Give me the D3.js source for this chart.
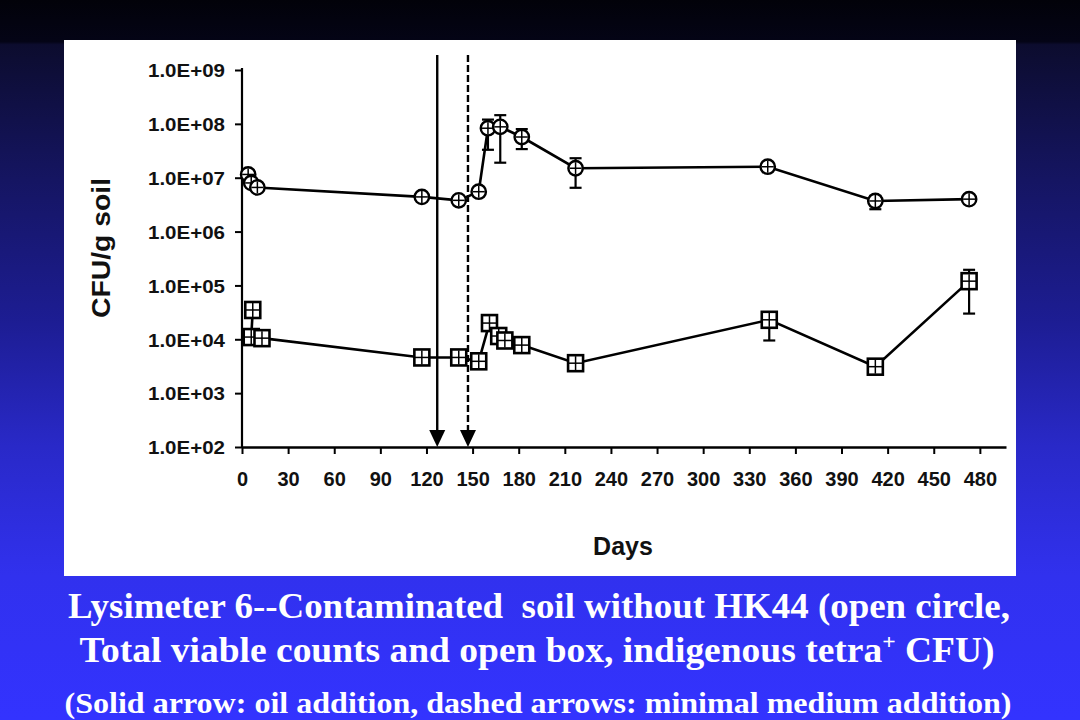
<!DOCTYPE html>
<html>
<head>
<meta charset="utf-8">
<script src="https://cdn.jsdelivr.net/npm/d3@7"></script>
<style>
  html, body { margin: 0; padding: 0; }
  svg { display: block; }
</style>
</head>
<body>
<svg id="chart" width="1080" height="720"></svg>
<script>
// ---------------- DATA ----------------
// Total viable counts (open circle)
const tvcDays   = [4, 6, 10, 117, 141, 154, 160, 168, 182, 217, 342, 412, 473];
const tvcValues = [1.15e7, 8.0e6, 6.6e6, 4.4e6, 3.8e6, 5.5e6, 8.3e7, 8.8e7, 5.7e7, 1.5e7, 1.6e7, 3.7e6, 4.0e6];
const tvcLow    = [null, null, null, null, null, null, 3.3e7, 1.9e7, 3.4e7, 6.5e6, null, 2.6e6, null];
const tvcHigh   = [null, null, null, null, null, null, 1.2e8, 1.45e8, 8.0e7, 2.3e7, null, 4.6e6, null];

// Indigenous tetra+ CFU (open box)
const tetraDays   = [7, 6, 13, 117, 141, 154, 161, 167, 171, 182, 217, 343, 412, 473];
const tetraValues = [3.5e4, 1.1e4, 1.05e4, 4.6e3, 4.6e3, 3.9e3, 2.0e4, 1.15e4, 9.5e3, 7.8e3, 3.6e3, 2.3e4, 3.1e3, 1.2e5];
const tetraLow    = [null, null, null, null, null, null, null, null, null, null, null, 9.5e3, null, 3.0e4];
const tetraHigh   = [null, null, null, null, null, null, null, null, null, null, null, 3.0e4, null, 1.95e5];

// Treatment arrows (day, kind)
const arrowDays  = [127, 147];
const arrowKinds = ["solid", "dashed"];

// Axis ticks
const xTickValues = [0, 30, 60, 90, 120, 150, 180, 210, 240, 270, 300, 330, 360, 390, 420, 450, 480];
const yTickValues = [1e2, 1e3, 1e4, 1e5, 1e6, 1e7, 1e8, 1e9];
const yTickLabels = ["1.0E+02", "1.0E+03", "1.0E+04", "1.0E+05", "1.0E+06", "1.0E+07", "1.0E+08", "1.0E+09"];

const xTitle = "Days";
const yTitle = "CFU/g soil";
const caption1 = "Lysimeter 6--Contaminated  soil without HK44 (open circle,";
const caption2a = "Total viable counts and open box, indigenous tetra";
const caption2sup = "+";
const caption2b = " CFU)";
const caption3 = "(Solid arrow: oil addition, dashed arrows: minimal medium addition)";

// ---------------- DRAW ----------------
const svg = d3.select("#chart");
const defs = svg.append("defs");
const grad = defs.append("linearGradient").attr("id", "bg")
  .attr("x1", 0).attr("y1", 0).attr("x2", 0).attr("y2", 1);
[[0, "#020209"], [0.058, "#040416"], [0.062, "#0c0c2e"], [0.25, "#151562"],
 [0.45, "#1d1d94"], [0.62, "#2929c8"], [0.8, "#3131ee"], [1, "#3333ff"]]
  .forEach(([o, c]) => grad.append("stop").attr("offset", o).attr("stop-color", c));

svg.append("rect").attr("width", 1080).attr("height", 720).attr("fill", "url(#bg)");
svg.append("rect").attr("x", 64).attr("y", 40).attr("width", 952).attr("height", 536).attr("fill", "#ffffff");

const x = d3.scaleLinear().domain([0, 497]).range([242, 1006]);
const y = d3.scaleLog().domain([1e2, 1e9]).range([447, 70]);

const sans = "Liberation Sans, Arial, Helvetica, sans-serif";

// Y axis
const yAxis = d3.axisLeft(y).tickValues(yTickValues)
  .tickFormat((d, i) => yTickLabels[i]).tickSize(7).tickSizeOuter(0).tickPadding(10);
const gy = svg.append("g").attr("transform", "translate(242,0)").call(yAxis);
gy.select(".domain").attr("stroke", "#000").attr("stroke-width", 2.2).attr("d", `M0,${y(1e9) - 2}V${y(1e2)}`);
gy.selectAll(".tick line").attr("stroke", "#000").attr("stroke-width", 2);
gy.selectAll(".tick text").attr("font-family", sans).attr("font-weight", "bold")
  .attr("font-size", 19).attr("fill", "#111").attr("dy", "0.36em")
  .attr("textLength", 77).attr("lengthAdjust", "spacingAndGlyphs");

// X axis
const xAxis = d3.axisBottom(x).tickValues(xTickValues).tickFormat(d3.format("d"))
  .tickSize(7).tickSizeOuter(0).tickPadding(18);
const gx = svg.append("g").attr("transform", `translate(0,${y(1e2)})`).call(xAxis);
gx.select(".domain").attr("stroke", "#000").attr("stroke-width", 2.4);
gx.selectAll(".tick line").attr("stroke", "#000").attr("stroke-width", 2);
gx.selectAll(".tick text").attr("font-family", sans).attr("font-weight", "bold")
  .attr("font-size", 20).attr("fill", "#111");

// Titles
svg.append("text").attr("x", 623).attr("y", 555).attr("text-anchor", "middle")
  .attr("font-family", sans).attr("font-weight", "bold").attr("font-size", 25).attr("fill", "#111")
  .text(xTitle);
svg.append("text").attr("transform", "translate(110,248) rotate(-90)").attr("text-anchor", "middle")
  .attr("font-family", sans).attr("font-weight", "bold").attr("font-size", 25).attr("fill", "#111")
  .attr("textLength", 140).attr("lengthAdjust", "spacingAndGlyphs")
  .text(yTitle);

// Arrows
const arrowTop = 55;
arrowDays.forEach((d, i) => {
  const ax = x(d);
  const g = svg.append("g");
  g.append("line").attr("x1", ax).attr("x2", ax).attr("y1", arrowTop).attr("y2", y(1e2) - 14)
    .attr("stroke", "#000").attr("stroke-width", 2.4)
    .attr("stroke-dasharray", arrowKinds[i] === "dashed" ? "7,3" : null);
  g.append("path")
    .attr("d", `M${ax - 8},${y(1e2) - 17}L${ax + 8},${y(1e2) - 17}L${ax},${y(1e2)}Z`)
    .attr("fill", "#000");
});

const line = d3.line().x(d => x(d.day)).y(d => y(d.v));

function series(days, vals, lo, hi) {
  return days.map((d, i) => ({ day: d, v: vals[i], lo: lo[i], hi: hi[i] }));
}
const tvc = series(tvcDays, tvcValues, tvcLow, tvcHigh);
const tetra = series(tetraDays, tetraValues, tetraLow, tetraHigh);

[tvc, tetra].forEach(s => {
  svg.append("path").datum(s).attr("d", line).attr("fill", "none")
    .attr("stroke", "#000").attr("stroke-width", 2.6);
  s.filter(p => p.lo !== null).forEach(p => {
    const px = x(p.day);
    const g = svg.append("g").attr("stroke", "#000").attr("stroke-width", 2.2);
    g.append("line").attr("x1", px).attr("x2", px).attr("y1", y(p.hi)).attr("y2", y(p.lo));
    g.append("line").attr("x1", px - 6).attr("x2", px + 6).attr("y1", y(p.hi)).attr("y2", y(p.hi));
    g.append("line").attr("x1", px - 6).attr("x2", px + 6).attr("y1", y(p.lo)).attr("y2", y(p.lo));
  });
});

// Circle markers
tvc.forEach(p => {
  const cx = x(p.day), cy = y(p.v);
  const g = svg.append("g");
  g.append("circle").attr("cx", cx).attr("cy", cy).attr("r", 7.2)
    .attr("fill", "#fff").attr("stroke", "#000").attr("stroke-width", 2.4);
  g.append("line").attr("x1", cx - 6).attr("x2", cx + 6).attr("y1", cy).attr("y2", cy)
    .attr("stroke", "#000").attr("stroke-width", 1.5);
  g.append("line").attr("x1", cx).attr("x2", cx).attr("y1", cy - 6).attr("y2", cy + 6)
    .attr("stroke", "#000").attr("stroke-width", 1.5);
});

// Box markers
tetra.forEach(p => {
  const cx = x(p.day), cy = y(p.v);
  const g = svg.append("g");
  g.append("rect").attr("x", cx - 7.5).attr("y", cy - 8).attr("width", 15).attr("height", 16)
    .attr("fill", "#fff").attr("stroke", "#000").attr("stroke-width", 2.6);
  g.append("line").attr("x1", cx - 7).attr("x2", cx + 7).attr("y1", cy).attr("y2", cy)
    .attr("stroke", "#000").attr("stroke-width", 1.5);
  g.append("line").attr("x1", cx).attr("x2", cx).attr("y1", cy - 7).attr("y2", cy + 7)
    .attr("stroke", "#000").attr("stroke-width", 1.5);
});

// Caption
const serif = "Liberation Serif, 'Times New Roman', Times, serif";
svg.append("text").attr("x", 539).attr("y", 618).attr("text-anchor", "middle")
  .attr("font-family", serif).attr("font-weight", "bold").attr("font-size", 35).attr("fill", "#fff")
  .attr("textLength", 942).attr("lengthAdjust", "spacingAndGlyphs")
  .style("white-space", "pre").text(caption1);
const t2 = svg.append("text").attr("x", 537).attr("y", 662).attr("text-anchor", "middle")
  .attr("font-family", serif).attr("font-weight", "bold").attr("font-size", 35).attr("fill", "#fff")
  .attr("textLength", 915).attr("lengthAdjust", "spacingAndGlyphs");
t2.append("tspan").text(caption2a);
t2.append("tspan").attr("dy", -13).attr("font-size", 22).text(caption2sup);
t2.append("tspan").attr("dy", 13).style("white-space", "pre").text(caption2b);
svg.append("text").attr("x", 538).attr("y", 713).attr("text-anchor", "middle")
  .attr("font-family", serif).attr("font-weight", "bold").attr("font-size", 30).attr("fill", "#fff")
  .attr("textLength", 947).attr("lengthAdjust", "spacingAndGlyphs")
  .text(caption3);
</script>
</body>
</html>
